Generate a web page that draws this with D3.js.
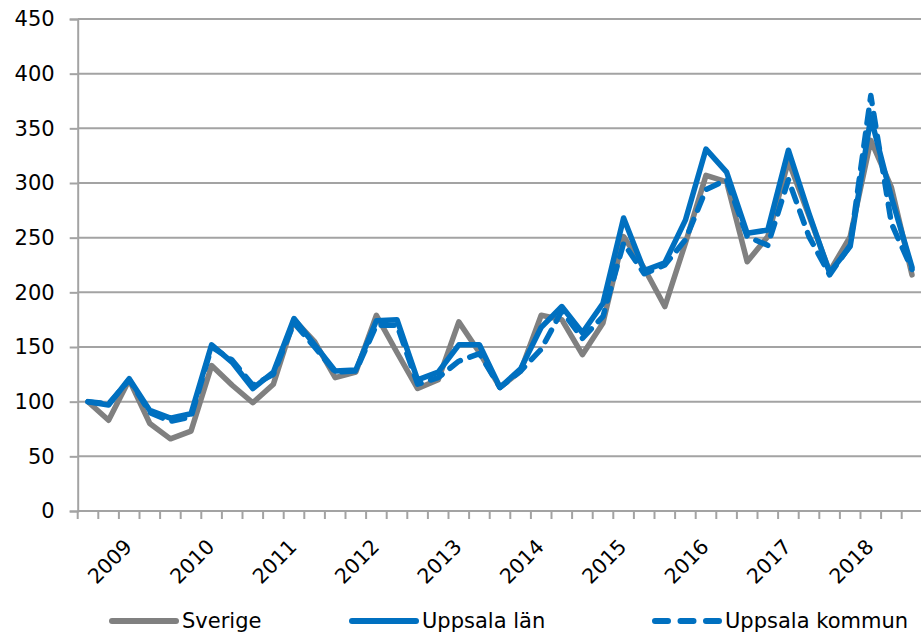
<!DOCTYPE html>
<html>
<head>
<meta charset="utf-8">
<script src="https://cdn.jsdelivr.net/npm/d3@7"></script>
<style>
  html, body { margin: 0; padding: 0; background: #fff; }
  svg { display: block; }
  text { font-family: "DejaVu Sans", sans-serif; fill: #000; }
</style>
</head>
<body>
<svg id="chart" width="921" height="633"></svg>
<script>
// Quarterly categories, 2009 K1 .. 2019 K1
const years = [2009, 2010, 2011, 2012, 2013, 2014, 2015, 2016, 2017, 2018, 2019];
const categories = [];
years.forEach(yr => { for (let q = 1; q <= 4; q++) categories.push(yr + " K" + q); });
categories.length = 41;

// Year tick labels and the category each sits under
const yearLabels = ["2009", "2010", "2011", "2012", "2013", "2014", "2015", "2016", "2017", "2018"];
const yearLabelCategories = ["2009 K3", "2010 K3", "2011 K3", "2012 K3", "2013 K3", "2014 K3", "2015 K3", "2016 K3", "2017 K3", "2018 K3"];

const yTicks = [0, 50, 100, 150, 200, 250, 300, 350, 400, 450];

const sverige = [100, 83, 120, 80, 66, 73, 133, 115, 99, 116, 175, 155, 122, 127, 179, 145, 112, 120, 173, 145,
                 113, 128, 179, 175, 143, 172, 251, 222, 187, 245, 307, 301, 228, 251, 320, 270, 219, 251, 339, 296, 216];
const uppsalaLan = [100, 97, 121, 92, 85, 89, 152, 136, 112, 127, 176, 152, 128, 129, 174, 175, 120, 127, 152, 152,
                    113, 130, 168, 187, 163, 190, 268, 220, 227, 266, 331, 310, 254, 257, 330, 272, 218, 242, 360, 287, 223];
const uppsalaKommun = [100, 98, 120, 90, 82, 86, 150, 138, 115, 125, 172, 150, 127, 128, 170, 170, 116, 122, 137, 144,
                       113, 128, 148, 183, 158, 178, 245, 217, 225, 248, 294, 303, 251, 243, 303, 251, 216, 243, 380, 263, 221];

const seriesNames = ["Sverige", "Uppsala län", "Uppsala kommun"];

(function () {
const svg = d3.select("#chart");
const mLeft = 77.7, mTop = 19, mBottom = 511, plotRight = 922.3;

const x = d3.scaleBand().domain(categories).range([mLeft, plotRight]).padding(0);
const y = d3.scaleLinear().domain([0, 450]).range([mBottom, mTop]);
const cx = c => x(c) + x.bandwidth() / 2;

// gridlines
svg.append("g").selectAll("line").data(yTicks.filter(t => t > 0)).join("line")
  .attr("x1", mLeft).attr("x2", 921)
  .attr("y1", d => y(d)).attr("y2", d => y(d))
  .attr("stroke", "#a3a3a3").attr("stroke-width", 2);

// y axis
const yAxis = d3.axisLeft(y).tickValues(yTicks).tickSize(8).tickPadding(15).tickFormat(d3.format("d"));
const gy = svg.append("g").attr("transform", `translate(${mLeft},0)`).call(yAxis);
gy.select(".domain").attr("stroke", "#a3a3a3").attr("stroke-width", 2);
gy.selectAll(".tick line").attr("stroke", "#a3a3a3").attr("stroke-width", 2);
gy.selectAll(".tick text").attr("font-size", 21).attr("font-family", "DejaVu Sans").attr("fill", "#000");

// x axis: ticks between categories
const boundaries = categories.map(c => x(c)).concat([plotRight]);
svg.append("line").attr("x1", mLeft).attr("x2", 921).attr("y1", mBottom).attr("y2", mBottom)
  .attr("stroke", "#a3a3a3").attr("stroke-width", 2);
svg.append("g").selectAll("line").data(boundaries).join("line")
  .attr("x1", d => d).attr("x2", d => d).attr("y1", mBottom).attr("y2", mBottom + 8)
  .attr("stroke", "#a3a3a3").attr("stroke-width", 2);

svg.append("g").selectAll("text").data(yearLabels).join("text")
  .attr("transform", (d, i) => `translate(${cx(yearLabelCategories[i]) - 1},543) rotate(-45)`)
  .attr("text-anchor", "end").attr("dy", "0.35em")
  .attr("font-size", 20.5)
  .text(d => d);

// lines
const line = d3.line().x((d, i) => cx(categories[i])).y(d => y(d));
const styles = [
  { data: sverige, color: "#808080", dash: null },
  { data: uppsalaLan, color: "#0070c0", dash: null },
  { data: uppsalaKommun, color: "#0070c0", dash: "13,10" }
];
styles.forEach(s => {
  svg.append("path").datum(s.data).attr("d", line)
    .attr("fill", "none").attr("stroke", s.color).attr("stroke-width", 5.5)
    .attr("stroke-linejoin", "round").attr("stroke-linecap", "round")
    .attr("stroke-dasharray", s.dash);
});

// legend
const legendX = [112, 352, 655];
const lg = svg.append("g");
seriesNames.forEach((name, i) => {
  const s = styles[i];
  lg.append("line").attr("x1", legendX[i]).attr("x2", legendX[i] + 64)
    .attr("y1", 621).attr("y2", 621)
    .attr("stroke", s.color).attr("stroke-width", 6).attr("stroke-linecap", "round")
    .attr("stroke-dasharray", s.dash ? "13,12.5" : null);
  lg.append("text").attr("x", legendX[i] + 70).attr("y", 621).attr("dy", "0.35em")
    .attr("font-size", 21).text(name);
});
})();
</script>
</body>
</html>
